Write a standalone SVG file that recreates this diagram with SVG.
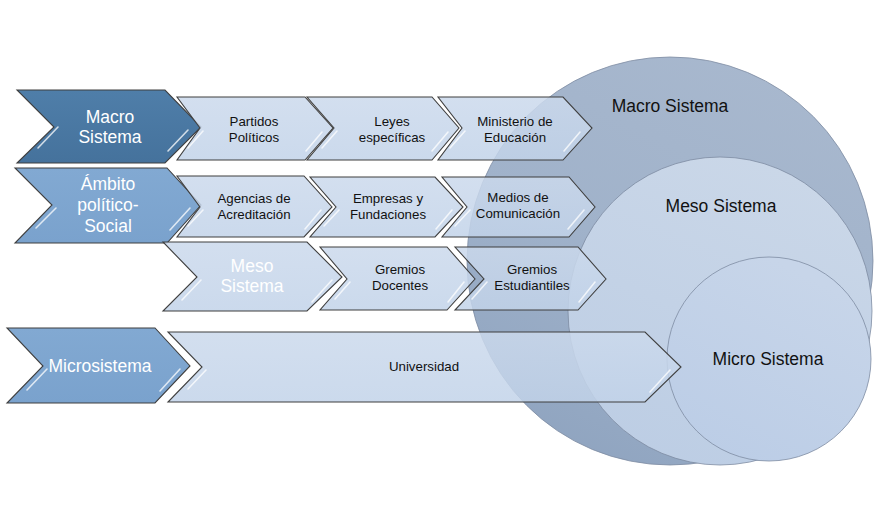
<svg xmlns="http://www.w3.org/2000/svg" width="875" height="509" viewBox="0 0 875 509">
<defs>
<linearGradient id="gMacro" x1="0.2" y1="1" x2="0.7" y2="0">
<stop offset="0" stop-color="#8ea3bf"/>
<stop offset="0.5" stop-color="#a0b2ca"/>
<stop offset="1" stop-color="#a8b8ce"/>
</linearGradient>
<linearGradient id="gMeso" x1="0.2" y1="1" x2="0.6" y2="0">
<stop offset="0" stop-color="#bccde4"/>
<stop offset="1" stop-color="#cad7e8"/>
</linearGradient>
<linearGradient id="gMicro" x1="0" y1="1" x2="0.5" y2="0">
<stop offset="0" stop-color="#bacce6"/>
<stop offset="1" stop-color="#c7d5e9"/>
</linearGradient>
<linearGradient id="gDark" x1="0" y1="0" x2="0" y2="1">
<stop offset="0" stop-color="#4f7ea9"/>
<stop offset="1" stop-color="#45729c"/>
</linearGradient>
<linearGradient id="gMid" x1="0" y1="0" x2="0" y2="1">
<stop offset="0" stop-color="#82a9d2"/>
<stop offset="1" stop-color="#7aa2cd"/>
</linearGradient>
<linearGradient id="gLight" x1="0" y1="0" x2="0" y2="1">
<stop offset="0" stop-color="#cbd9ec"/>
<stop offset="1" stop-color="#c2d3e9"/>
</linearGradient>
</defs>
<style>
.circ{stroke:#7d8ca2;stroke-width:0.8}
.chev{stroke:#3f3f3f;stroke-width:1.1;stroke-linejoin:miter}
.dark{fill:url(#gDark)}
.mid{fill:url(#gMid)}
.light{fill:url(#gLight);fill-opacity:0.85}
.hl{stroke:#ffffff;stroke-width:1.6;stroke-opacity:0.75;fill:none;stroke-linecap:round}
.big{font-family:"Liberation Sans",Arial,sans-serif;font-size:17.5px;fill:#ffffff;text-anchor:middle}
.sm{font-family:"Liberation Sans",Arial,sans-serif;font-size:13.3px;fill:#111111;text-anchor:middle}
.cl{font-family:"Liberation Sans",Arial,sans-serif;font-size:17.5px;fill:#111111;text-anchor:middle}
</style>
<rect width="875" height="509" fill="#ffffff"/>
<g id="circles">
<g id="macro-circle"><ellipse class="circ" cx="670" cy="261" rx="203" ry="204" fill="url(#gMacro)"/></g>
<g id="meso-circle"><ellipse class="circ" cx="720" cy="311" rx="152" ry="154" fill="url(#gMeso)"/></g>
<g id="micro-circle"><ellipse class="circ" cx="769" cy="359" rx="102" ry="102" fill="url(#gMicro)"/></g>
</g>
<g id="circle-labels">
<text class="cl" x="670" y="112">Macro Sistema</text>
<text class="cl" x="721" y="212">Meso Sistema</text>
<text class="cl" x="768" y="365">Micro Sistema</text>
</g>
<g id="row1">
<g id="n-macro">
<path class="chev dark" d="M17,90 L165,90 L201,127 L165,163 L17,163 L54,127 Z"/>
<path class="hl" d="M58,127 L38,148 M188,130 L168,151"/>
<text class="big" x="110" y="123">Macro</text>
<text class="big" x="110" y="143">Sistema</text>
</g>
<g id="n-partidos">
<path class="chev light" d="M177,97 L305,97 L333,128 L305,160 L177,160 L200,128 Z"/>
<path class="hl" d="M203,131 L188,148 M322,132 L306,151"/>
<text class="sm" x="254" y="126">Partidos</text>
<text class="sm" x="254" y="142">Políticos</text>
</g>
<g id="n-leyes">
<path class="chev light" d="M307,97 L432,97 L459,128 L432,160 L307,160 L334,128 Z"/>
<path class="hl" d="M337,131 L322,148 M448,132 L432,151"/>
<text class="sm" x="392" y="126">Leyes</text>
<text class="sm" x="392" y="142">específicas</text>
</g>
<g id="n-ministerio">
<path class="chev light" d="M438,97 L563,97 L592,128 L563,160 L438,160 L462,128 Z"/>
<path class="hl" d="M465,131 L450,148 M580,132 L564,151"/>
<text class="sm" x="515" y="126">Ministerio de</text>
<text class="sm" x="515" y="142">Educación</text>
</g>
</g>
<g id="row2">
<g id="n-ambito">
<path class="chev mid" d="M15,168 L167,168 L201,205 L167,243 L15,243 L52,205 Z"/>
<path class="hl" d="M56,208 L36,228 M190,208 L170,230"/>
<text class="big" x="108" y="190">Ámbito</text>
<text class="big" x="108" y="211">político-</text>
<text class="big" x="108" y="232">Social</text>
</g>
<g id="n-agencias">
<path class="chev light" d="M177,176 L304,176 L332,207 L304,237 L177,237 L200,207 Z"/>
<path class="hl" d="M203,210 L188,226 M321,210 L305,229"/>
<text class="sm" x="254" y="203">Agencias de</text>
<text class="sm" x="254" y="219">Acreditación</text>
</g>
<g id="n-empresas">
<path class="chev light" d="M310,177 L435,177 L463,207 L435,237 L310,237 L336,207 Z"/>
<path class="hl" d="M339,210 L324,226 M452,210 L436,229"/>
<text class="sm" x="388" y="203">Empresas y</text>
<text class="sm" x="388" y="219">Fundaciones</text>
</g>
<g id="n-medios">
<path class="chev light" d="M442,177 L569,177 L595,207 L569,237 L442,237 L467,207 Z"/>
<path class="hl" d="M470,210 L455,226 M584,210 L568,229"/>
<text class="sm" x="518" y="202">Medios de</text>
<text class="sm" x="518" y="218">Comunicación</text>
</g>
</g>
<g id="row3">
<g id="n-meso">
<path class="chev light" d="M163,242 L307,242 L342,277 L307,311 L163,311 L197,277 Z"/>
<path class="hl" d="M201,280 L182,300 M332,280 L312,302"/>
<text class="big" x="252" y="272">Meso</text>
<text class="big" x="252" y="292">Sistema</text>
</g>
<g id="n-docentes">
<path class="chev light" d="M320,247 L447,247 L475,279 L447,310 L320,310 L347,279 Z"/>
<path class="hl" d="M350,282 L335,299 M464,282 L448,302"/>
<text class="sm" x="400" y="274">Gremios</text>
<text class="sm" x="400" y="290">Docentes</text>
</g>
<g id="n-estudiantiles">
<path class="chev light" d="M455,247 L578,247 L606,279 L578,310 L455,310 L484,279 Z"/>
<path class="hl" d="M487,282 L472,299 M595,282 L579,302"/>
<text class="sm" x="532" y="274">Gremios</text>
<text class="sm" x="532" y="290">Estudiantiles</text>
</g>
</g>
<g id="row4">
<g id="n-microsistema">
<path class="chev mid" d="M7,328 L155,328 L190,366 L155,403 L7,403 L43,366 Z"/>
<path class="hl" d="M47,369 L27,390 M180,369 L160,391"/>
<text class="big" x="100" y="372">Microsistema</text>
</g>
<g id="n-universidad">
<path class="chev light" d="M168,332 L645,332 L681,367 L645,402 L168,402 L202,367 Z"/>
<path class="hl" d="M206,370 L188,389 M670,370 L650,392"/>
<text class="sm" x="424" y="371">Universidad</text>
</g>
</g>
<g id="connectors"></g>
</svg>
